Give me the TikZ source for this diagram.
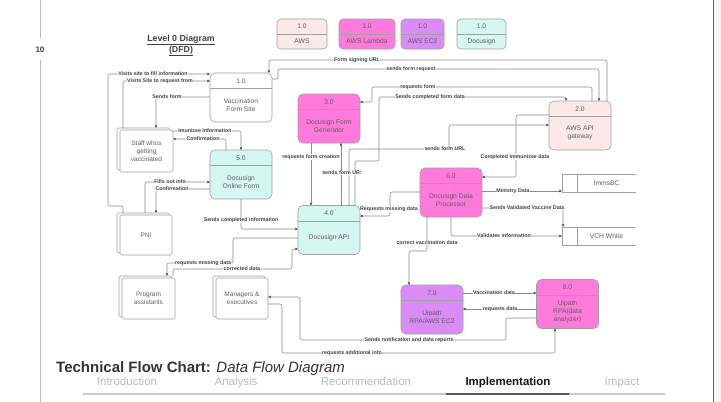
\documentclass[tikz,border=0pt]{standalone}
\usepackage{fontspec}
\setmainfont{Liberation Sans}
\usetikzlibrary{arrows.meta}
\definecolor{awsfill}{HTML}{FCE8E8}
\definecolor{lambdafill}{HTML}{FF7ADB}
\definecolor{ecfill}{HTML}{DA8BF8}
\definecolor{docfill}{HTML}{D5F7F1}
\definecolor{linegray}{HTML}{8A8A8A}
\definecolor{boxgray}{HTML}{A0A0A0}
\definecolor{txtgray}{HTML}{5F5F5F}
\definecolor{tabgray}{HTML}{B3BEC4}
\tikzset{
 proc/.style={draw=boxgray, rounded corners=5pt, line width=0.6pt, inner sep=0pt, outer sep=0pt, minimum width=62pt, minimum height=49pt},
 divline/.style={draw=boxgray, line width=0.6pt},
 numtxt/.style={font=\fontsize{6.7}{8}\selectfont, text=txtgray, inner sep=0pt},
 nametxt/.style={font=\fontsize{6.7}{8.2}\selectfont, text=txtgray, align=center, inner sep=0pt},
 ent/.style={draw=boxgray, fill=white, rounded corners=1.5pt, line width=0.6pt, inner sep=0pt, outer sep=0pt, font=\fontsize{6.5}{8}\selectfont, text=txtgray, align=center},
 storeline/.style={draw=boxgray, line width=0.6pt},
 flow/.style={draw=linegray, line width=0.55pt, rounded corners=2pt, -{Stealth[length=3.2pt,width=2.8pt,color=black!70]}},
 lab/.style={font=\fontsize{5.3}{6}\selectfont\bfseries, text=black!75, fill=white, inner sep=0.4pt},
 tab/.style={font=\fontsize{11.5}{13}\selectfont, text=tabgray, anchor=base, inner sep=0pt},
}
\newcommand{\dfdproc}[5]{%
 \node[proc, fill=#3] (#1) at (#2) {};
 \draw[divline] ([yshift=-15.5pt]#1.north west) -- ([yshift=-15.5pt]#1.north east);
 \node[numtxt] at ([yshift=-7.75pt]#1.north) {#4};
 \node[nametxt] at ([yshift=-7.75pt]#1.center) {#5};}
\newcommand{\dfdkey}[5]{%
 \node[proc, fill=#4, minimum width=#3, minimum height=30pt, rounded corners=4pt] (#1) at (#2) {};
 \draw[divline] ([yshift=-15pt]#1.north west) -- ([yshift=-15pt]#1.north east);
 \node[numtxt] at ([yshift=-7.5pt]#1.north) {1.0};
 \node[numtxt] at ([yshift=7.5pt]#1.south) {#5};}
\newcommand{\dfdent}[5]{%
 \node[ent, minimum width=#3, minimum height=#4] (#1s) at ([shift={(-3pt,2pt)}]#2) {};
 \node[ent, minimum width=#3, minimum height=#4] (#1) at (#2) {#5};
 \coordinate (#1top) at (#1s.north);}
\newcommand{\dfdstore}[3]{%
 \node[minimum width=74pt, minimum height=18pt, inner sep=0pt, outer sep=0pt] (#1) at (#2) {};
 \draw[storeline] (#1.north east) -- (#1.north west) -- (#1.south west) -- (#1.south east);
 \draw[storeline] ([xshift=15pt]#1.north west) -- ([xshift=15pt]#1.south west);
 \node[nametxt] at ([xshift=7.5pt]#1.center) {#3};}
\begin{document}
\begin{tikzpicture}[x=1pt,y=-1pt]
\useasboundingbox (0,0) rectangle (721,402);
\fill[white] (0,0) rectangle (721,402);
% slide frame
\fill[gray!8] (713,0) rectangle (721,402);
\draw[black!60, line width=0.8pt] (713,0) -- (713,402);
\draw[gray!55, line width=0.8pt] (40,0) -- (40,38) (40,60) -- (40,402);
\node[font=\fontsize{8}{9}\selectfont\bfseries, text=black!75] (pagenum) at (40,50) {10};
% title
\node[font=\fontsize{8.8}{11}\selectfont\bfseries, text=black!75, align=center] (ttl0) at (181,45.5) {\underline{Level 0 Diagram}\\\underline{(DFD)}};
% legend
\dfdkey{kaws}{302,34}{50pt}{awsfill}{AWS}
\dfdkey{klam}{367,34}{56pt}{lambdafill}{AWS Lambda}
\dfdkey{kec}{422.5,34}{43pt}{ecfill}{AWS EC2}
\dfdkey{kdoc}{481.5,34}{49pt}{docfill}{Docusign}
% processes
\dfdproc{n1}{241,97.5}{white}{1.0}{Vaccination\\Form Site}
\dfdproc{n3}{329,118.5}{lambdafill}{3.0}{Docusign Form\\Generator}
\dfdproc{n2}{580,125.5}{awsfill}{2.0}{AWS API\\gateway}
\dfdproc{n5}{241,174.5}{docfill}{5.0}{Docusign\\Online Form}
\dfdproc{n4}{329,230}{docfill}{4.0}{Docusign API}
\dfdproc{n6}{451,192.5}{lambdafill}{6.0}{Docusign Data\\Processor}
\dfdproc{n7}{432,309.5}{ecfill}{7.0}{Uipath\\RPA/AWS EC2}
\dfdproc{n8}{567.5,304}{lambdafill}{8.0}{Uipath\\RPA(data\\analyzer)}
% external entities
\dfdent{staff}{146.5,151}{53pt}{42pt}{Staff whos\\getting\\vaccinated}
\dfdent{pni}{146,235}{52pt}{40pt}{PNI}
\dfdent{prog}{148.5,298.5}{53pt}{41pt}{Program\\assistants}
\dfdent{mgr}{242,298.5}{52pt}{41pt}{Managers \&\\executives}
% data stores
\dfdstore{imms}{599,183}{ImmsBC}
\dfdstore{vch}{599,236}{VCH White}
% connectors
\draw[flow] (pnitop -| 123,0) -- (123,206) -- (108,206) -- (108,74) -- (n1.west |- 0,74);
\draw[flow] (stafftop -| 123,0) -- (123,81) -- (n1.west |- 0,81);
\draw[flow] (n1.west |- 0,97) -- (156,97) -- (stafftop -| 156,0);
\draw[flow] (staff.east |- 0,131) -- (241,131) -- (n5.north);
\draw[flow] (n5.north -| 226,0) -- (226,139) -- (staff.east |- 0,139);
\draw[flow] (pnitop -| 145,0) -- (145,182) -- (n5.west |- 0,182);
\draw[flow] (n5.west |- 0,189) -- (156,189) -- (pnitop -| 156,0);
\draw[flow] (n5.south) -- (241,229) -- (n4.west |- 0,229);
\draw[flow] (n4.west |- 0,238) -- (233,238) -- (233,263) -- (167,263) -- (progtop -| 167,0);
\draw[flow] (progtop -| 173,0) -- (173,269) -- (292,269) -- (292,249) -- (n4.west |- 0,249);
\draw[flow] (n3.south -| 311,0) -- (n4.north -| 311,0);
\draw[flow] (n4.north -| 341,0) -- (n3.south -| 341,0);
\draw[flow] (n4.north -| 349,0) -- (349,149) -- (449,149) -- (449,125) -- (n2.west |- 0,125);
\draw[flow] (n4.north -| 355,0) -- (355,161) -- (379,161) -- (379,97) -- (566,97) -- (n2.north -| 566,0);
\draw[flow] (n2.north -| 592,0) -- (592,87) -- (372,87) -- (372,102) -- (n3.east |- 0,102);
\draw[flow] (n1.east |- 0,79) -- (278,79) -- (278,69) -- (599,69) -- (n2.north -| 599,0);
\draw[flow] (n2.north -| 607,0) -- (607,60) -- (269,60) -- (n1.north -| 269,0);
\draw[flow] (n2.west |- 0,115) -- (516,115) -- (516,177) -- (n6.east |- 0,177);
\draw[flow] (n6.east |- 0,191) -- (imms.west |- 0,191);
\draw[flow] (n6.east |- 0,208) -- (563,208) -- (vch.north -| 563,0);
\draw[flow] (n6.south -| 451,0) -- (451,236) -- (vch.west);
\draw[flow] (n6.west |- 0,192) -- (390,192) -- (390,216) -- (n4.east |- 0,216);
\draw[flow] (n6.south -| 427,0) -- (427,251) -- (409,251) -- (n7.north -| 409,0);
\draw[flow] (n7.east |- 0,293) -- (n8.west |- 0,293);
\draw[flow] (n8.west |- 0,309) -- (n7.east |- 0,309);
\draw[flow] (n8.west |- 0,318) -- (506,318) -- (506,340) -- (300,340) -- (300,297) -- (mgr.east |- 0,297);
\draw[flow] (mgr.east |- 0,304) -- (282,304) -- (282,353) -- (555,353) -- (n8.south -| 555,0);
% labels
\node[lab] (l1) at (153,74) {Visits site to fill information};
\node[lab] (l2) at (160,81) {Visits Site to request from};
\node[lab] (l3) at (167,97) {Sends form};
\node[lab] (l4) at (205,131) {Imunizee Information};
\node[lab] (l5) at (203,139) {Confirmation};
\node[lab] (l6) at (170,182) {Fills out info};
\node[lab] (l7) at (172,189) {Confirmation};
\node[lab] (l8) at (241,220) {Sends completed information};
\node[lab] (l9) at (203,263) {requests missing data};
\node[lab] (l10) at (242,269) {corrected data};
\node[lab] (l11) at (311,157) {requests form creation};
\node[lab] (l12) at (342,173) {sends form UR:};
\node[lab] (l13) at (445,149) {sends form URL};
\node[lab] (l14) at (430,97) {Sends completed form data};
\node[lab] (l15) at (418,87) {requests form};
\node[lab] (l16) at (411,69) {sends form request};
\node[lab] (l17) at (357,60) {Form signing URL};
\node[lab] (l19) at (515,157) {Completed Immunizee data};
\node[lab] (l20) at (513,191) {Ministry Data};
\node[lab] (l21) at (527,208) {Sends Validated Vaccine Data};
\node[lab] (l22) at (504,236) {Validates information};
\node[lab] (l23) at (389,209) {Requests missing data};
\node[lab] (l24) at (427,243) {correct vaccination data};
\node[lab] (l25) at (494,293) {Vaccination data};
\node[lab] (l26) at (500,309) {requests data};
\node[lab] (l27) at (409,340) {Sends notification and data reports};
\node[lab] (l28) at (352,353) {requests additional info};
% footer
\node[anchor=base west, inner sep=0pt, font=\fontsize{15}{18}\selectfont, text=black!80] (ttl) at (56,372) {\textbf{Technical Flow Chart:} \textit{Data Flow Diagram}};
\node[tab] (t1) at (127,385) {Introduction};
\node[tab] (t2) at (236,385) {Analysis};
\node[tab] (t3) at (366,385) {Recommendation};
\node[tab, text=black!90, font=\fontsize{11.5}{13}\selectfont\bfseries] (t4) at (508,385) {Implementation};
\node[tab] (t5) at (622,385) {Impact};
\draw[tabgray!80, line width=1.4pt] (83,394) -- (665,394);
\draw[black!65, line width=2pt] (446,394) -- (569,394);
\end{tikzpicture}
\end{document}
